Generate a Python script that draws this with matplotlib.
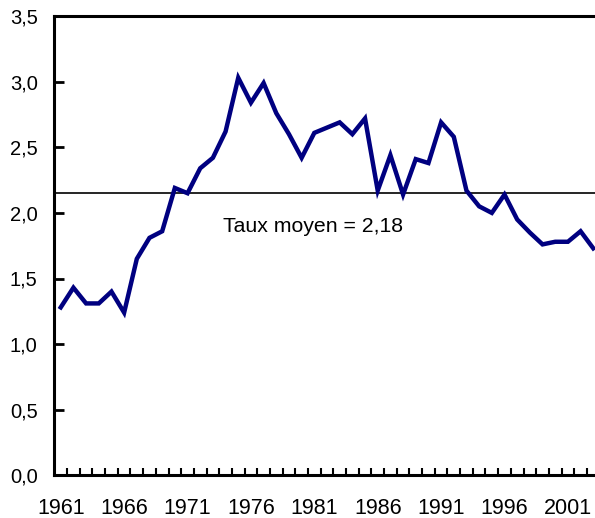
import matplotlib.pyplot as plt
from matplotlib.ticker import FixedLocator

# Taux annuel, 1961-2003
years = list(range(1961, 2004))
taux = [1.28, 1.43, 1.31, 1.31, 1.40, 1.24, 1.65, 1.81, 1.86, 2.19,
        2.15, 2.34, 2.42, 2.62, 3.03, 2.84, 2.99, 2.76, 2.60, 2.42,
        2.61, 2.65, 2.69, 2.60, 2.72, 2.17, 2.44, 2.14, 2.41, 2.38,
        2.69, 2.58, 2.17, 2.05, 2.00, 2.14, 1.95, 1.85, 1.76, 1.78,
        1.78, 1.86, 1.73]
mean_line = 2.15
mean_label = "Taux moyen = 2,18"

y_ticks = [0, 0.5, 1.0, 1.5, 2.0, 2.5, 3.0, 3.5]
y_labels = ["0,0", "0,5", "1,0", "1,5", "2,0", "2,5", "3,0", "3,5"]
x_labels = [1961, 1966, 1971, 1976, 1981, 1986, 1991, 1996, 2001]

plt.rcParams['font.family'] = ['Liberation Sans', 'DejaVu Sans']

fig = plt.figure(figsize=(5.95, 5.18), dpi=100)
ax = fig.add_axes([54.4 / 595, 42.7 / 518, 545.2 / 595, 459.2 / 518])

ax.plot(years, taux, color="#000080", linewidth=3.2, solid_joinstyle="miter", zorder=3)
ax.axhline(mean_line, color="black", linewidth=1.2, zorder=2)
ax.text(1980.9, 1.895, mean_label, ha="center", va="center", fontsize=15.3)

ax.set_xlim(1960.5, 2003.5)
ax.set_ylim(0, 3.5)

# y axis
ax.set_yticks(y_ticks)
ax.set_yticklabels(y_labels, fontsize=14.5)
ax.tick_params(axis="y", direction="in", length=7, width=2, pad=12)

# x axis: ticks between years, labels every 5 years
ax.set_xticks(x_labels)
ax.set_xticklabels([str(x) for x in x_labels],
                   family=['Liberation Sans Narrow', 'Liberation Sans'], fontsize=15.5)
ax.xaxis.set_minor_locator(FixedLocator([y + 0.5 for y in years[:-1]]))
ax.tick_params(axis="x", which="major", length=0, pad=16)
ax.tick_params(axis="x", which="minor", direction="in", length=5, width=1.5)

for side in ["left", "bottom", "top"]:
    ax.spines[side].set_linewidth(2.2)
ax.spines["right"].set_visible(False)

fig.savefig("out.png", dpi=100)
